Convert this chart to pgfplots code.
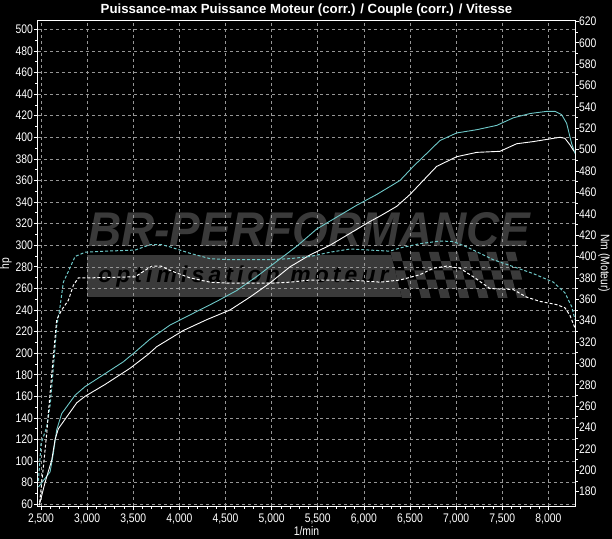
\documentclass[border=0pt]{standalone}
\usepackage{pgfplots}
\pgfplotsset{compat=1.18}
\usepackage{fontspec}
\setmainfont{Liberation Sans}[FakeStretch=0.83]
\newfontfamily\wmfont{Liberation Sans}
\newfontfamily\wmspaced{Liberation Sans}[LetterSpace=18]
\definecolor{tealc}{RGB}{110,200,200}
\definecolor{gridc}{RGB}{150,150,150}
\definecolor{wm}{RGB}{58,58,58}

\pgfplotsset{
  dyno/.style={
    scale only axis, width=537bp, height=485.3bp,
    xmin=2467, xmax=8289,
    no markers,
    axis line style={white, line width=1bp},
    tick style={white, line width=0.7bp},
    tick align=outside,
    major tick length=4bp, minor tick length=2.5bp,
    tick label style={white, font=\fontsize{12.5}{13}\selectfont, inner sep=0pt},
    label style={white, font=\fontsize{12.5}{13}\selectfont},
    /pgf/number format/assume math mode=true,
  }
}

\begin{document}
\begin{tikzpicture}
\fill[black, use as bounding box] (-38bp,-33bp) rectangle (574bp,506bp);

% watermark
\node[anchor=south west, inner sep=0pt, text=wm] at (50bp,259bp)
  {\resizebox{442bp}{34bp}{\wmfont\bfseries\itshape BR-PERFORMANCE}};
\fill[wm] (48.7bp,209bp) rectangle (382bp,251bp);
\node[anchor=base west, inner sep=0pt, text=black] at (60bp,223bp)
  {\fontsize{23}{23}\wmspaced\bfseries\itshape optimisation moteur};
\begin{scope}[shift={(364bp,208bp)}, xslant=-0.25]
  \fill[black] (0,0) rectangle (124.8bp,46bp);
  \foreach \i in {0,...,12}{\foreach \j in {0,...,4}{%
    \pgfmathtruncatemacro\p{mod(\i+\j,2)}%
    \ifnum\p=0 \fill[wm] (\i*9.6bp,\j*9.2bp) rectangle ++(9.6bp,9.2bp);\fi}}
\end{scope}

\begin{axis}[dyno,
    ymin=58.4, ymax=508,
    xtick={2500,3000,...,8000}, ytick={60,80,...,500},
    minor x tick num=4, minor y tick num=1,
    xtick pos=lower, ytick pos=left,
    grid=major,
    major grid style={gridc, dash pattern=on 3bp off 3bp, line width=0.6bp},
    x tick label style={anchor=north, yshift=-4bp, /pgf/number format/1000 sep={,}},
    y tick label style={anchor=east, xshift=-1bp},
    xlabel={1/min}, ylabel={hp},
    xlabel style={at={(axis description cs:0.5,-0.0598)}, anchor=base},
    ylabel style={at={(axis description cs:-0.0596,0.5)}, anchor=center, rotate=0},
  ]
  % Puissance-max (hp)
  \addplot[tealc, line width=0.9bp] table {
    2472 76
    2598 90
    2633 107
    2670 129
    2724 144
    2869 161
    2977 169
    3194 181
    3392 192
    3519 201
    3682 213
    3898 226
    4151 237
    4405 248
    4621 258
    4838 271
    5055 285
    5272 299
    5489 315
    5705 326
    5922 337
    6139 347
    6392 360
    6536 373
    6681 385
    6825 397
    7006 404
    7223 407
    7440 411
    7620 418
    7801 422
    7982 424
    8072 424
    8144 421
    8198 413
    8253 394
    8289 385
  };
  % Puissance Moteur (corr.) (hp)
  \addplot[white, line width=0.9bp] table {
    2480 59
    2543 80
    2616 101
    2652 120
    2688 130
    2779 141
    2887 154
    2977 160
    3194 171
    3465 186
    3663 199
    3754 206
    4043 221
    4296 231
    4549 240
    4766 252
    4982 265
    5199 280
    5416 291
    5633 300
    5850 311
    6066 322
    6175 327
    6356 336
    6500 347
    6644 360
    6789 373
    7006 382
    7223 386
    7476 387
    7656 394
    7837 396
    7982 398
    8126 400
    8180 399
    8234 393
    8278 387
  };
\end{axis}

\begin{axis}[dyno,
    ymin=166.6, ymax=620.6,
    axis x line=none, axis y line*=right,
    xtick=\empty, ytick={180,200,...,620}, minor y tick num=1,
    y tick label style={anchor=west, xshift=0bp},
    ylabel={Nm (Moteur)},
    ylabel style={at={(axis description cs:1.054,0.5)}, anchor=center, rotate=180},
  ]
  % Couple max (Nm)
  \addplot[tealc, line width=1bp, dash pattern=on 3bp off 2bp] table {
    2472 190
    2500 225
    2560 240
    2600 262
    2633 295
    2670 335
    2706 353
    2742 376
    2796 386
    2869 400
    2977 404
    3200 405
    3519 406
    3682 411
    3808 411
    3898 409
    4115 403
    4332 398
    4549 397
    4766 397
    4982 397
    5199 398
    5416 400
    5633 404
    5850 407
    6066 406
    6283 405
    6392 408
    6608 412
    6825 414.5
    6969 414
    7114 409
    7259 403
    7403 397
    7620 390.5
    7837 384
    8054 376
    8180 366
    8253 353
    8289 341
  };
  % Couple (corr.) (Nm)
  \addplot[white, line width=1bp, dash pattern=on 3bp off 2bp] table {
    2485 170
    2525 203
    2562 235
    2598 272
    2633 306
    2670 341
    2724 350
    2796 359
    2850 373
    2904 380
    3013 380
    3519 381
    3700 391
    3800 391
    3898 387
    4115 380
    4332 376
    4549 375
    4982 375
    5199 376
    5416 378
    5850 378
    6175 376
    6392 378
    6608 383
    6753 389
    6897 391
    7042 389
    7187 381
    7367 370
    7620 369
    7765 362
    7909 358
    8090 355
    8180 352
    8234 345
    8289 333
  };
\end{axis}

\node[anchor=base, inner sep=0pt, text=white]
  at (268.5bp,492.4bp) {\fontsize{13.3}{14}\wmfont\bfseries Puissance-max Puissance Moteur (corr.) / Couple (corr.) / Vitesse};
\end{tikzpicture}
\end{document}
